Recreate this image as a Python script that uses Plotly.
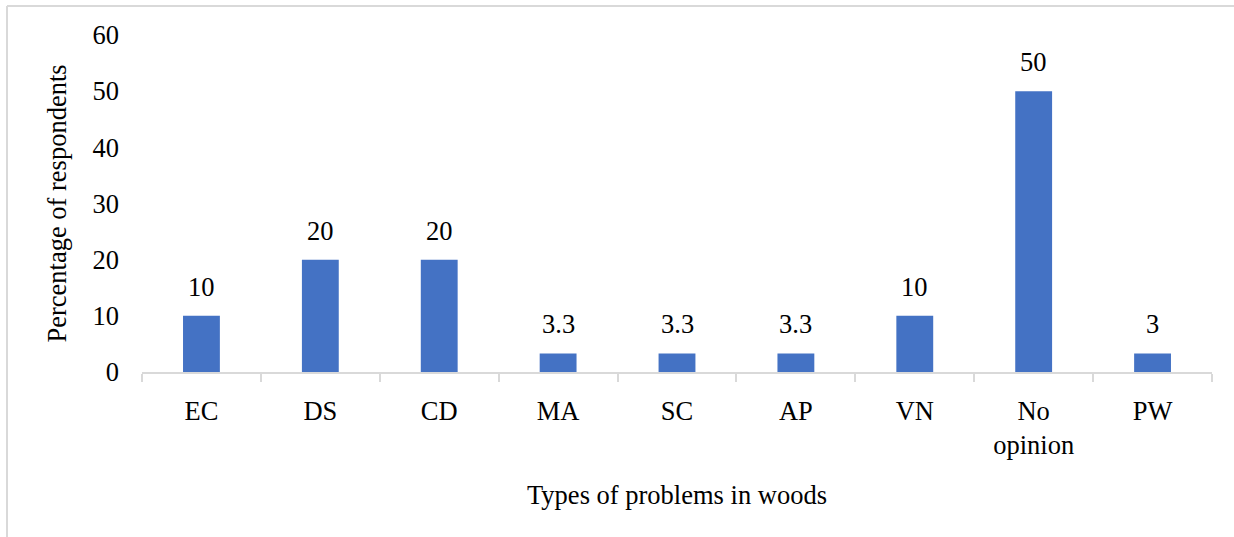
import plotly.graph_objects as go

categories = ["EC", "DS", "CD", "MA", "SC", "AP", "VN", "No<br>opinion", "PW"]
values = [10, 20, 20, 3.3, 3.3, 3.3, 10, 50, 3.3]
labels = ["10", "20", "20", "3.3", "3.3", "3.3", "10", "50", "3"]
y_ticks = [0, 10, 20, 30, 40, 50, 60]

FONT = "Liberation Serif, Times New Roman, serif"
FS = 26.5
W, H = 1234, 537
L, R, T, B = 142, 22, 35, 165
pw, ph = W - L - R, H - T - B

fig = go.Figure(go.Bar(x=categories, y=values, width=0.31,
                       marker=dict(color="#4472C4", line=dict(width=0))))

for c, v, t in zip(categories, values, labels):
    fig.add_annotation(x=c, y=v, text=t, showarrow=False, yanchor="bottom",
                       yshift=12, font=dict(family=FONT, size=FS, color="#000"))

fig.add_shape(type="line", xref="paper", yref="paper",
              x0=(7 - L) / pw, x1=(W - L) / pw + 0.01,
              y0=1 + (T - 6) / ph, y1=1 + (T - 6) / ph,
              line=dict(color="#D9D9D9", width=2))
fig.add_shape(type="line", xref="paper", yref="paper",
              x0=(7 - L) / pw, x1=(7 - L) / pw,
              y0=1 + (T - 6) / ph, y1=-(B + 5) / ph,
              line=dict(color="#D9D9D9", width=2))

fig.update_layout(
    width=W, height=H,
    margin=dict(l=L, r=R, t=T, b=B),
    plot_bgcolor="white", paper_bgcolor="white",
    font=dict(family=FONT, size=FS, color="#000"),
    showlegend=False,
)
fig.update_xaxes(
    showline=True, linecolor="#D9D9D9", linewidth=2,
    ticks="outside", tickson="boundaries", ticklen=8, tickcolor="#D9D9D9", tickwidth=2,
    ticklabelstandoff=14,
    showgrid=False,
    title=dict(text="Types of problems in woods", standoff=26, font=dict(size=FS)),
    tickfont=dict(size=FS),
)
fig.update_yaxes(
    range=[0, 60], tickvals=y_ticks, showgrid=False, zeroline=False, showline=False,
    ticks="", ticklabelstandoff=22, tickfont=dict(size=FS),
    title=dict(text="Percentage of respondents", standoff=18, font=dict(size=FS)),
)

fig.write_html("out.html", config={"displayModeBar": False},
               post_script="document.body.style.margin='0';")
